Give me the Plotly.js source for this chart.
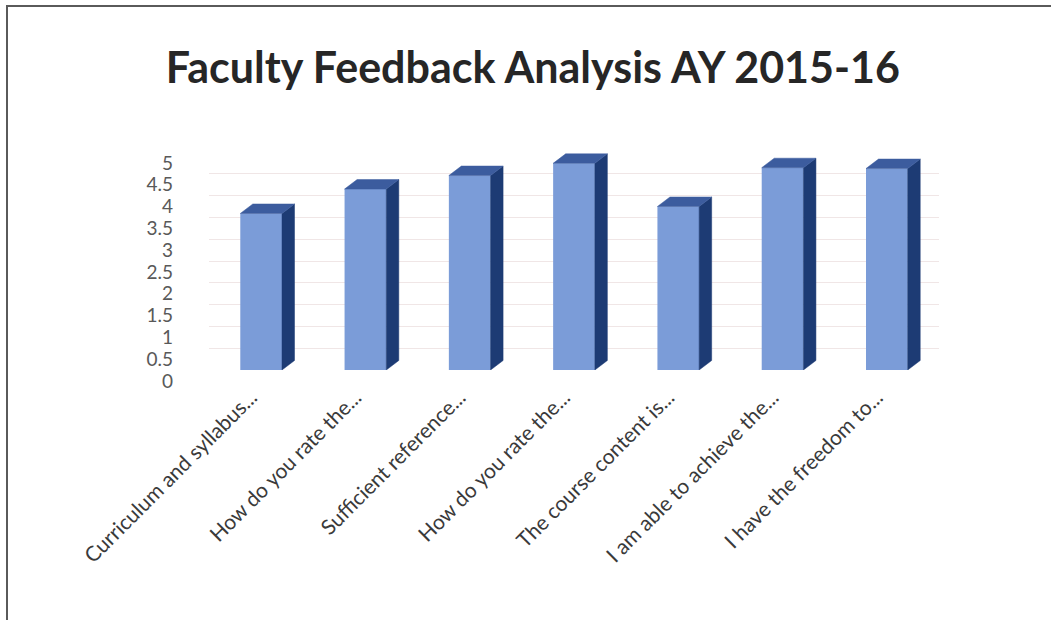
<!DOCTYPE html>
<html>
<head>
<meta charset="utf-8">
<script src="https://cdn.plot.ly/plotly-3.0.1.min.js"></script>
<style>
  html, body { margin: 0; padding: 0; background: #ffffff; }
  #wrap { position: relative; width: 1051px; height: 620px; overflow: hidden; }
  #chart { width: 1051px; height: 620px; }
  #frame { position: absolute; left: 6px; top: 5px; width: 1060px; height: 640px;
           border-left: 2px solid #5a5a5a; border-top: 2px solid #5a5a5a; pointer-events: none; }
</style>
</head>
<body>
<div id="wrap">
  <div id="chart"></div>
  <div id="frame"></div>
</div>
<script>
// ---- data ----
const categories = [
  "Curriculum and syllabus...",
  "How do you rate the...",
  "Sufficient reference...",
  "How do you rate the...",
  "The course content is...",
  "I am able to achieve the...",
  "I have the freedom to..."
];
const values = [3.59, 4.15, 4.46, 4.74, 3.75, 4.64, 4.62];
const yTickVals = [0, 0.5, 1, 1.5, 2, 2.5, 3, 3.5, 4, 4.5, 5];
const yTickText = ["0", "0.5", "1", "1.5", "2", "2.5", "3", "3.5", "4", "4.5", "5"];
const chartTitle = "Faculty Feedback Analysis AY 2015-16";

// ---- styling for the pseudo 3-D columns ----
const barWidth = 0.4;     // fraction of a category slot
const depthX = 0.12;      // depth offset in category units
const depthY = 0.218;     // depth offset in value units
const xIdx = categories.map((_, i) => i);

// side faces and top faces, built from the values
const sideX = [], sideY = [], topX = [], topY = [];
values.forEach((v, i) => {
  const r = i + barWidth / 2, l = i - barWidth / 2;
  sideX.push(r, r + depthX, r + depthX, r, r, null);
  sideY.push(0, depthY, v + depthY, v, 0, null);
  topX.push(l, r, r + depthX, l + depthX, l, null);
  topY.push(v, v, v + depthY, v + depthY, v, null);
});

const traces = [
  {
    type: "bar", x: xIdx, y: values, width: barWidth,
    marker: { color: "#7b9cd8", line: { width: 0 } },
    hoverinfo: "y", showlegend: false
  },
  {
    type: "scatter", mode: "lines", x: sideX, y: sideY, fill: "toself",
    fillcolor: "#1d3b74", line: { color: "#1d3b74", width: 0.5 },
    hoverinfo: "skip", showlegend: false, cliponaxis: false
  },
  {
    type: "scatter", mode: "lines", x: topX, y: topY, fill: "toself",
    fillcolor: "#3c5c9e", line: { color: "#3c5c9e", width: 0.5 },
    hoverinfo: "skip", showlegend: false, cliponaxis: false
  }
];

const layout = {
  width: 1051, height: 620,
  paper_bgcolor: "#ffffff", plot_bgcolor: "#ffffff",
  margin: { l: 209, r: 112, t: 152, b: 250 },
  title: {
    text: "<b>" + chartTitle + "</b>",
    font: { family: "Lato, 'Open Sans', sans-serif", size: 43, color: "#262626" },
    x: 0.507, xref: "container", xanchor: "center",
    y: 0.89, yref: "container", yanchor: "middle"
  },
  xaxis: {
    range: [-0.5, 6.5],
    tickvals: xIdx, ticktext: categories,
    tickangle: -45,
    tickfont: { family: "Lato, 'Open Sans', sans-serif", size: 21, color: "#3a3a3a" },
    showgrid: false, zeroline: false, showline: false, ticks: "",
    ticklabelstandoff: 10, ticklabelshift: -10, fixedrange: true
  },
  yaxis: {
    range: [0, 5],
    tickvals: yTickVals, ticktext: yTickText,
    tickfont: { family: "Lato, 'Open Sans', sans-serif", size: 19, color: "#595959" },
    showgrid: true, gridcolor: "#f0e6e6", gridwidth: 1,
    zeroline: false, showline: false, ticks: "",
    ticklabelshift: 11, ticklabelstandoff: 35, fixedrange: true
  },
  bargap: 0.6
};

Plotly.newPlot("chart", traces, layout, { staticPlot: true, displayModeBar: false });
</script>
</body>
</html>
